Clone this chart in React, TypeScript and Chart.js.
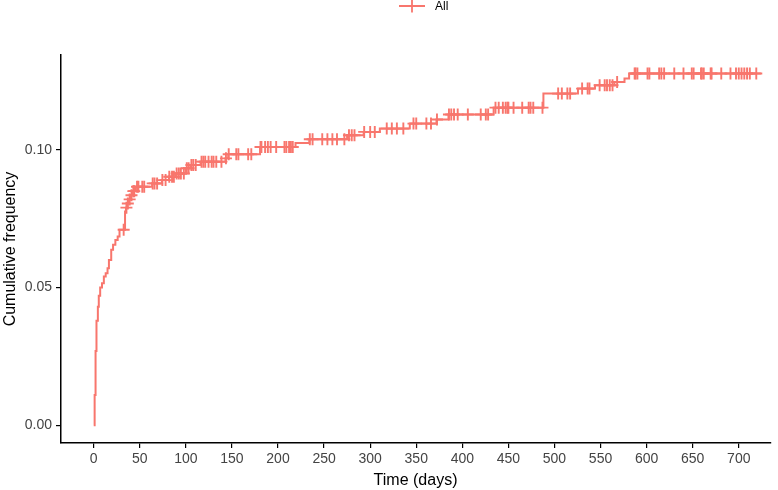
import React, { useEffect, useRef } from "react";
import { Chart, registerables } from "chart.js";

Chart.register(...registerables);

// Step curve: times (days) at which cumulative frequency jumps, and the new level
const eventTimes = [0, 1, 2, 3, 4.5, 5.5, 7, 9, 11, 13, 15, 16.5, 19, 21, 23.5, 26, 28, 34, 35, 36.5, 38, 40, 42, 45, 63.4, 74, 81.7, 89, 100, 105, 116, 143, 146, 180.5, 219, 234, 275, 293, 310.5, 343, 372, 385, 434, 488, 525.5, 544, 565, 576, 581, 724];
const eventValues = [0, 0.011, 0.027, 0.038, 0.043, 0.047, 0.05, 0.0516, 0.054, 0.0552, 0.057, 0.06, 0.0637, 0.0655, 0.0673, 0.0685, 0.071, 0.0776, 0.079, 0.0805, 0.082, 0.0835, 0.085, 0.0866, 0.0878, 0.089, 0.0902, 0.0914, 0.0933, 0.0945, 0.0957, 0.0969, 0.0984, 0.101, 0.1025, 0.1038, 0.1053, 0.1065, 0.1077, 0.1095, 0.111, 0.1128, 0.1153, 0.1204, 0.1222, 0.1234, 0.1246, 0.1259, 0.1277, 0.1277];

// Censoring times (days)
const censorTimes = [32.5, 35.5, 37, 39, 41, 43, 44, 47, 48.5, 52.7, 54.8, 64, 66, 68.8, 74.5, 78, 82, 85, 87, 90, 92.4, 94.6, 97.8, 101, 103, 106, 108, 110.7, 117, 119, 121, 124.6, 128, 130, 133, 138.6, 143.5, 146.5, 154.7, 157, 167.6, 171, 181, 182, 186, 189, 192, 198, 207, 209, 212, 214, 216, 234.5, 237.5, 248, 253.6, 259, 264, 272, 277, 280, 283, 293.5, 300, 305, 318, 323.5, 329, 336, 347, 350, 361, 366, 372.5, 385.5, 388, 391, 395, 406, 420, 425.5, 428, 436, 439.5, 444, 447, 449, 450, 455.6, 465, 472, 474, 477, 487, 504, 508, 514, 517, 530, 536, 538, 549, 554.5, 557, 560, 563, 568, 587, 588, 590, 601, 603, 613.6, 616, 619, 630, 640, 649, 651, 659, 660, 662, 669.5, 670.5, 681, 691, 697, 700, 703, 706, 709, 712, 719];

const xTicks = [0, 50, 100, 150, 200, 250, 300, 350, 400, 450, 500, 550, 600, 650, 700];
const yTicks = [0, 0.05, 0.1];
const seriesName = "All";
const COLOR = "#F8766D";
const FONT = "'Liberation Sans', Arial, Helvetica, sans-serif";

function levelAt(t: number): number {
  let v = 0;
  for (let i = 0; i < eventTimes.length; i++) {
    if (eventTimes[i] <= t) v = eventValues[i];
  }
  return v;
}

const legendPlugin = {
  id: "customLegend",
  afterDraw(chart: any) {
    const ctx = chart.ctx;
    ctx.save();
    ctx.strokeStyle = COLOR;
    ctx.lineWidth = 1.8;
    ctx.beginPath();
    ctx.moveTo(399, 6);
    ctx.lineTo(425, 6);
    ctx.moveTo(412, 0);
    ctx.lineTo(412, 12.5);
    ctx.stroke();
    ctx.fillStyle = "#000";
    ctx.font = `12px ${FONT}`;
    ctx.textBaseline = "middle";
    ctx.textAlign = "left";
    ctx.fillText(seriesName, 435, 6.5);
    ctx.restore();
  },
};

export default function App() {
  const ref = useRef<HTMLCanvasElement>(null);
  useEffect(() => {
    if (!ref.current) return;
    const lineData = eventTimes.map((t, i) => ({ x: t, y: eventValues[i] }));
    const censorData = censorTimes.map((t) => ({ x: t, y: levelAt(t) }));
    const chart = new Chart(ref.current, {
      type: "line",
      data: {
        datasets: [
          {
            label: seriesName,
            data: lineData,
            borderColor: COLOR,
            borderWidth: 2,
            stepped: "before",
            pointRadius: 0,
            fill: false,
          },
          {
            label: seriesName + " censored",
            type: "scatter",
            data: censorData,
            borderColor: COLOR,
            backgroundColor: COLOR,
            pointStyle: "cross",
            pointRadius: 6,
            borderWidth: 1.9,
            showLine: false,
          } as any,
        ],
      },
      options: {
        responsive: false,
        animation: false,
        events: [],
        layout: { padding: { top: 55, right: 1, left: 0, bottom: 0 } },
        plugins: { legend: { display: false }, tooltip: { enabled: false } },
        scales: {
          x: {
            type: "linear",
            min: -35.5,
            max: 734,
            afterBuildTicks: (s: any) => {
              s.ticks = xTicks.map((v) => ({ value: v }));
            },
            afterFit: (s: any) => {
              s.height = 47;
              s.paddingLeft = 0;
              s.paddingRight = 0;
            },
            grid: { display: true, drawOnChartArea: false, drawTicks: true, tickLength: 5, color: "#000", lineWidth: 1.2 },
            border: { display: true, color: "#000", width: 1.5 },
            ticks: {
              color: "#444",
              font: { family: FONT, size: 14 },
              padding: 3,
              maxRotation: 0,
              autoSkip: false,
              callback: (v: any) => String(v),
            },
            title: {
              display: true,
              text: "Time (days)",
              color: "#000",
              font: { family: FONT, size: 16 },
              padding: { top: 0, bottom: 0 },
            },
          },
          y: {
            type: "linear",
            min: -0.0064,
            max: 0.1344,
            afterBuildTicks: (s: any) => {
              s.ticks = yTicks.map((v) => ({ value: v }));
            },
            afterFit: (s: any) => {
              s.width = 61;
              s.paddingTop = 0;
              s.paddingBottom = 0;
            },
            grid: { display: true, drawOnChartArea: false, drawTicks: true, tickLength: 5, color: "#000", lineWidth: 1.2 },
            border: { display: true, color: "#000", width: 1.5 },
            ticks: {
              color: "#444",
              font: { family: FONT, size: 14 },
              padding: 4,
              autoSkip: false,
              callback: (v: any) => Number(v).toFixed(2),
            },
            title: {
              display: true,
              text: "Cumulative frequency",
              color: "#000",
              font: { family: FONT, size: 16 },
              padding: { top: 1, bottom: 0 },
            },
          },
        },
      },
      plugins: [legendPlugin],
    });
    return () => chart.destroy();
  }, []);
  return (
    <div style={{ position: "absolute", left: 0, top: 0, width: 778, height: 490, background: "#fff" }}>
      <canvas ref={ref} width={778} height={490} style={{ display: "block" }} />
    </div>
  );
}
